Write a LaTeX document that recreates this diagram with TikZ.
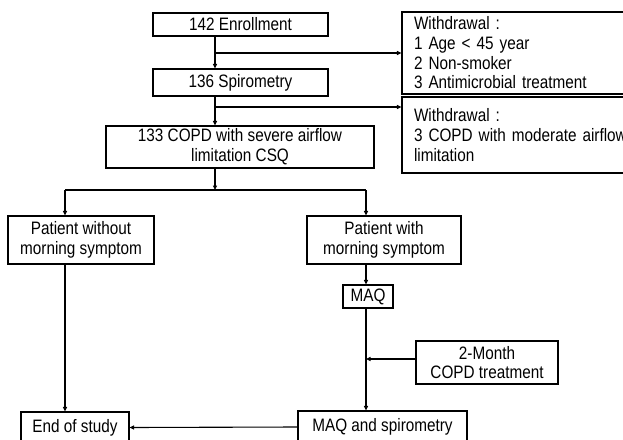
\documentclass[tikz,border=0pt]{standalone}
\usepackage{fontspec}
\setmainfont{Liberation Sans}[FakeStretch=0.85]
\usetikzlibrary{calc,arrows.meta}

\begin{document}
\begin{tikzpicture}[x=1pt, y=-1pt, line width=1.1pt,
	caja/.style={draw, align=center, inner sep=0pt, font=\fontsize{18}{19.7}\selectfont},
	retiro/.style={draw, align=left, text width=236pt, inner xsep=12pt, inner ysep=0pt, font=\fontsize{18}{19.7}\selectfont},
	flecha/.style={-{Triangle[length=4.5pt,width=4pt]}}]
	\useasboundingbox (0,0) rectangle (623,439);
	\clip (0,0) rectangle (623,439);

	% Cajas del tronco
	\node[caja, minimum width=175, minimum height=23] (enroll) at (240.5,24.5) {142 Enrollment};
	\node[caja, minimum width=175, minimum height=27] (spiro) at (240.5,82.5) {136 Spirometry};
	\node[caja, minimum width=268, minimum height=42] (copd) at (240,147) {133 COPD with severe airflow\\limitation CSQ};

	% Cajas de retiro
	\node[retiro, minimum height=82] (w1) at (532,53) {Withdrawal :\\1 Age < 45 year\\2 Non-smoker\\3 Antimicrobial treatment};
	\node[retiro, minimum height=76] (w2) at (532,135) {Withdrawal :\\3 COPD with moderate airflow\\limitation};

	% Ramas
	\node[caja, minimum width=146, minimum height=48] (sinsint) at (81,240) {Patient without\\morning symptom};
	\node[caja, minimum width=154, minimum height=48] (consint) at (384,240) {Patient with\\morning symptom};
	\node[caja, minimum width=50, minimum height=23] (maq) at (368,296.5) {MAQ};
	\node[caja, minimum width=142, minimum height=43] (trat) at (487,362.5) {2-Month\\COPD treatment};
	\node[caja, minimum width=169, minimum height=32] (maqesp) at (382.5,427) {MAQ and spirometry};
	\node[caja, minimum width=108, minimum height=31] (fin) at (75,427.5) {End of study};

	% Puntos de las lineas
	\coordinate (t) at (215,0);
	\coordinate (r2) at (215,107);
	\coordinate (div) at (215,190);
	\coordinate (izq) at (65,190);
	\coordinate (der) at (366,190);
	\coordinate (r3) at (480,359);

	% Tronco y retiros
	\draw[flecha] (enroll.south -| t) -- (spiro.north -| t);
	\draw[flecha] (t |- w1.west) -- (w1.west);
	\draw[flecha] (spiro.south -| t) -- (copd.north -| t);
	\draw[flecha] (r2) -- (r2 -| w2.west);
	\draw[flecha] (copd.south -| t) -- (div);

	% Division en dos grupos
	\draw (izq) -- (der);
	\draw[flecha] (izq) -- (izq |- sinsint.north);
	\draw[flecha] (der) -- (der |- consint.north);
	\draw[flecha] (consint.south -| der) -- (maq.north -| der);
	\draw[flecha] (maq.south -| der) -- (maqesp.north -| der);
	\draw[flecha] (r3 -| trat.west) -- (r3 -| der);
	\draw[flecha] (sinsint.south -| izq) -- (fin.north -| izq);
	\draw[flecha] (maqesp.west) -- (fin.east);
\end{tikzpicture}
\end{document}
